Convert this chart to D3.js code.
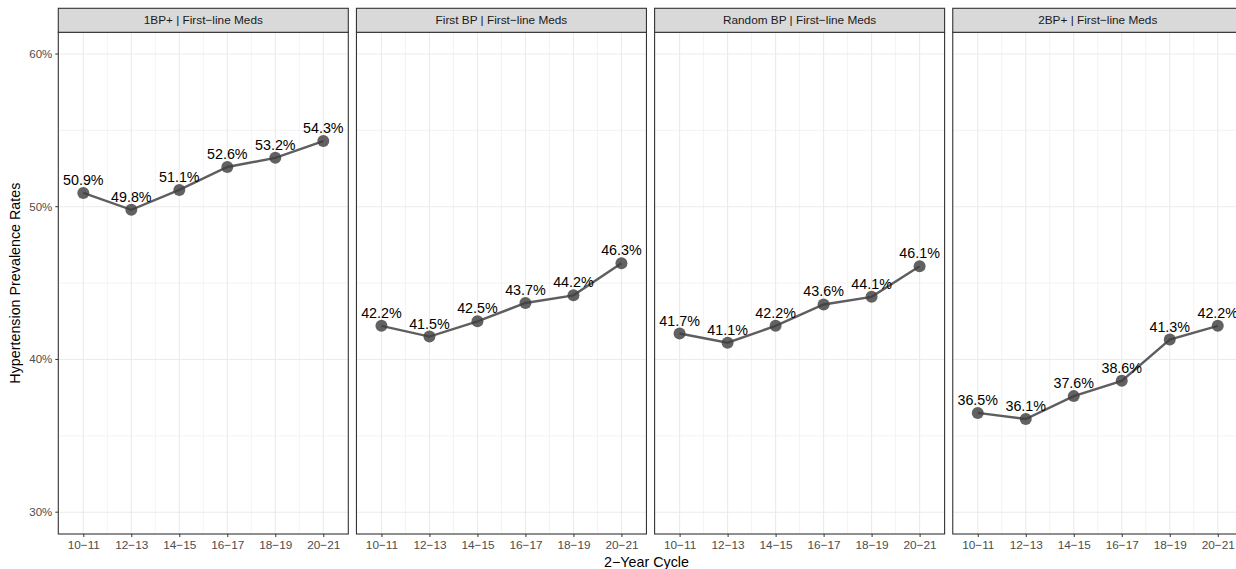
<!DOCTYPE html>
<html>
<head>
<meta charset="utf-8">
<script src="https://cdn.jsdelivr.net/npm/d3@7"></script>
<style>
  html, body { margin: 0; padding: 0; background: #fff; overflow: hidden; }
  svg { display: block; font-family: "Liberation Sans", Arial, Helvetica, sans-serif; }
</style>
</head>
<body>
<svg id="chart" width="1236" height="569"></svg>
<script>
const cycles = ["10\u221211", "12\u221213", "14\u221215", "16\u221217", "18\u221219", "20\u221221"];
const panels = ["1BP+ | First\u2212line Meds", "First BP | First\u2212line Meds", "Random BP | First\u2212line Meds", "2BP+ | First\u2212line Meds"];
const ratesOneBP = [50.9, 49.8, 51.1, 52.6, 53.2, 54.3];
const ratesFirstBP = [42.2, 41.5, 42.5, 43.7, 44.2, 46.3];
const ratesRandomBP = [41.7, 41.1, 42.2, 43.6, 44.1, 46.1];
const ratesTwoBP = [36.5, 36.1, 37.6, 38.6, 41.3, 42.2];
const seriesValues = [ratesOneBP, ratesFirstBP, ratesRandomBP, ratesTwoBP];
const yTicks = [30, 40, 50, 60];
const yMinor = [35, 45, 55];

const svg = d3.select("#chart");
const panelW = 290, panelStep = 298.15, firstLeft = 58.3;
const stripTop = 8.3, stripH = 24, plotTop = 32.3, plotBottom = 534;

const y = d3.scaleLinear().domain([30, 60]).range([512.2, 54]);
const x = d3.scalePoint().domain(cycles).range([25, panelW - 25]);

// y-axis title
svg.append("text")
  .attr("transform", `translate(20,${(plotTop + plotBottom) / 2}) rotate(-90)`)
  .attr("text-anchor", "middle")
  .attr("font-size", 14.3)
  .attr("fill", "#000")
  .text("Hypertension Prevalence Rates");

// x-axis title
svg.append("text")
  .attr("x", firstLeft + (3 * panelStep + panelW) / 2 - 4)
  .attr("y", 567)
  .attr("text-anchor", "middle")
  .attr("font-size", 14.3)
  .attr("fill", "#000")
  .text("2\u2212Year Cycle");

// y axis labels (left of first panel)
const yAxisG = svg.append("g");
yTicks.forEach(t => {
  yAxisG.append("line")
    .attr("x1", firstLeft - 3).attr("x2", firstLeft)
    .attr("y1", y(t)).attr("y2", y(t))
    .attr("stroke", "#333").attr("stroke-width", 1);
  yAxisG.append("text")
    .attr("x", firstLeft - 6).attr("y", y(t))
    .attr("dy", "0.35em")
    .attr("text-anchor", "end")
    .attr("font-size", 11.5)
    .attr("fill", "#4d4d4d")
    .text(t + "%");
});

const line = d3.line().x((d, i) => x(cycles[i])).y(d => y(d));

panels.forEach((name, p) => {
  const left = firstLeft + p * panelStep;
  const g = svg.append("g").attr("transform", `translate(${left},0)`);

  g.append("rect").attr("x", 0).attr("y", plotTop).attr("width", panelW).attr("height", plotBottom - plotTop)
    .attr("fill", "#fff");

  // minor gridlines
  yMinor.forEach(t => {
    g.append("line").attr("x1", 0).attr("x2", panelW).attr("y1", y(t)).attr("y2", y(t))
      .attr("stroke", "#ebebeb").attr("stroke-width", 0.6);
  });
  for (let i = 0; i < cycles.length - 1; i++) {
    const mx = (x(cycles[i]) + x(cycles[i + 1])) / 2;
    g.append("line").attr("x1", mx).attr("x2", mx).attr("y1", plotTop).attr("y2", plotBottom)
      .attr("stroke", "#ebebeb").attr("stroke-width", 0.6);
  }
  // major gridlines
  yTicks.forEach(t => {
    g.append("line").attr("x1", 0).attr("x2", panelW).attr("y1", y(t)).attr("y2", y(t))
      .attr("stroke", "#ebebeb").attr("stroke-width", 1.1);
  });
  cycles.forEach(c => {
    g.append("line").attr("x1", x(c)).attr("x2", x(c)).attr("y1", plotTop).attr("y2", plotBottom)
      .attr("stroke", "#ebebeb").attr("stroke-width", 1.1);
  });

  const vals = seriesValues[p];
  g.append("path").datum(vals).attr("d", line)
    .attr("fill", "none").attr("stroke", "#5e5e5e").attr("stroke-width", 2.4);
  g.selectAll("circle.pt").data(vals).enter().append("circle")
    .attr("class", "pt")
    .attr("cx", (d, i) => x(cycles[i])).attr("cy", d => y(d)).attr("r", 6)
    .attr("fill", "#3f3f3f").attr("fill-opacity", 0.82);
  g.selectAll("text.lbl").data(vals).enter().append("text")
    .attr("class", "lbl")
    .attr("x", (d, i) => x(cycles[i])).attr("y", d => y(d) - 8)
    .attr("text-anchor", "middle")
    .attr("font-size", 14.3)
    .attr("fill", "#000")
    .text(d => d.toFixed(1) + "%");

  g.append("rect").attr("x", 0).attr("y", plotTop).attr("width", panelW).attr("height", plotBottom - plotTop)
    .attr("fill", "none").attr("stroke", "#333").attr("stroke-width", 1.1);

  // strip
  g.append("rect").attr("x", 0).attr("y", stripTop).attr("width", panelW).attr("height", stripH)
    .attr("fill", "#d9d9d9").attr("stroke", "#333").attr("stroke-width", 1.1);
  g.append("text").attr("x", panelW / 2).attr("y", stripTop + stripH / 2).attr("dy", "0.35em")
    .attr("text-anchor", "middle").attr("font-size", 11.8).attr("fill", "#1a1a1a")
    .text(name);

  // x axis ticks
  const xa = g.append("g").attr("transform", `translate(0,${plotBottom})`)
    .call(d3.axisBottom(x).tickSize(3).tickPadding(4));
  xa.select(".domain").remove();
  xa.selectAll(".tick line").attr("stroke", "#333").attr("stroke-width", 1);
  xa.selectAll(".tick text").attr("font-size", 11.8).attr("fill", "#4d4d4d")
    .attr("font-family", "Liberation Sans, Arial, sans-serif");
});
</script>
</body>
</html>
